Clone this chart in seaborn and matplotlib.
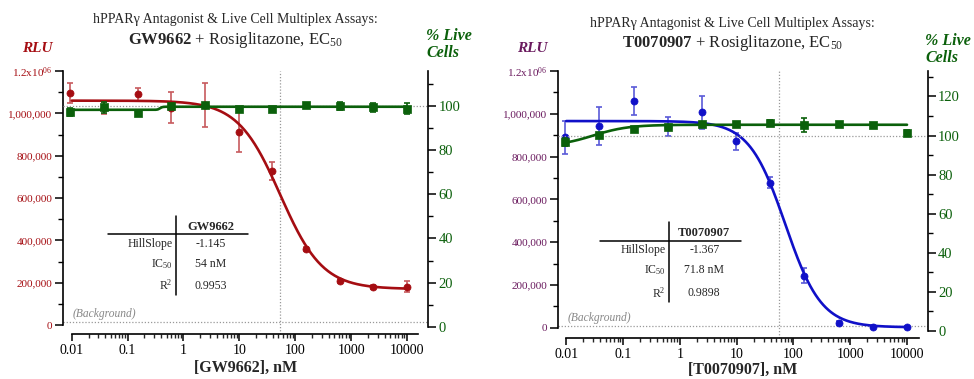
import numpy as np
import pandas as pd
import matplotlib
matplotlib.use("Agg")
import matplotlib.pyplot as plt
import seaborn as sns
from matplotlib.ticker import FixedLocator, FixedFormatter, NullFormatter
from matplotlib.lines import Line2D

sns.set_theme(style="ticks")
plt.rcParams['font.family'] = ['Liberation Serif', 'DejaVu Serif']
plt.rcParams['mathtext.fontset'] = 'custom'
plt.rcParams['mathtext.rm'] = 'Liberation Serif'
plt.rcParams['mathtext.it'] = 'Liberation Serif:italic'
plt.rcParams['mathtext.bf'] = 'Liberation Serif:bold'

# ---------------- data ----------------
conc = [0.0095, 0.038, 0.153, 0.61, 2.44, 9.77, 39.06, 156.25, 625, 2500, 10000]
x_ticks = [0.01, 0.1, 1, 10, 100, 1000, 10000]
x_tick_labels = ['0.01', '0.1', '1', '10', '100', '1000', '10000']
rlu_ticks = [0, 200000, 400000, 600000, 800000, 1000000, 1200000]
rlu_tick_labels = ['0', '200,000', '400,000', '600,000', '800,000', '1,000,000',
                   r'$\mathregular{1.2x10^{06}}$']

gw_rlu = [1.097e6, 1.025e6, 1.091e6, 1.027e6, 1.038e6, 0.913e6, 0.726e6, 0.358e6, 0.208e6, 0.181e6, 0.181e6]
gw_rlu_err = [0.048e6, 0.027e6, 0.031e6, 0.075e6, 0.103e6, 0.098e6, 0.043e6, 0.010e6, 0.010e6, 0.010e6, 0.025e6]
gw_live = [97.3, 99.4, 96.7, 100.0, 100.5, 98.5, 98.8, 100.5, 100.0, 99.4, 98.8]
gw_live_err = [2.0, 2.5, 0.8, 1.0, 1.0, 1.0, 1.0, 0.5, 1.8, 2.0, 2.4]
gw_fit = dict(top=1.06e6, bottom=0.17e6, mid=54, hill=-1.145)
gw_live_fit = dict(top=99.7, bottom=98.3, mid=0.38, hill=20)
gw_table = ['GW9662', '-1.145', '54 nM', '0.9953']

t_rlu = [0.89e6, 0.943e6, 1.061e6, 0.94e6, 1.007e6, 0.872e6, 0.678e6, 0.242e6, 0.023e6, 0.002e6, 0.002e6]
t_rlu_err = [0.076e6, 0.09e6, 0.065e6, 0.045e6, 0.078e6, 0.04e6, 0.027e6, 0.035e6, 0.01e6, 0.005e6, 0.005e6]
t_live = [96.8, 100.4, 103.3, 104.3, 105.9, 105.9, 106.2, 105.4, 105.7, 105.2, 101.4]
t_live_err = [2.0, 1.0, 0.8, 1.0, 1.0, 1.2, 1.5, 3.4, 0.8, 0.8, 1.5]
t_fit = dict(top=0.966e6, bottom=0.002e6, mid=71.8, hill=-1.367)
t_live_fit = dict(top=105.5, bottom=94.5, mid=0.03, hill=1.4)
t_table = ['T0070907', '-1.367', '71.8 nM', '0.9898']

RED = '#a50d12'
RED_ERR = '#c75a5e'
GREEN = '#0b600b'
BLUE = '#1010c8'
BLUE_ERR = '#5a5ad8'
PURPLE = '#6a1a5e'

W, H = 974, 379
fig = plt.figure(figsize=(W / 100, H / 100), dpi=100)


def fx(px):
    return px / W


def fy(py):
    return 1 - py / H


def four_pl(x, p):
    x = np.asarray(x)
    return p['bottom'] + (p['top'] - p['bottom']) / (1 + 10 ** ((np.log10(p['mid']) - np.log10(x)) * p['hill']))


def panel(box, xlim, ylim_l, ylim_r, xspine_end, rlu, rlu_err, live, live_err,
          fit, live_fit, c_main, c_err, c_left_ticks, live_major, live_minor,
          bg_level, vline_x, xlabel, xlabelpad, title_x, title_y, title2, rlu_pos,
          live_pos, table, tab):
    l, t, r, b = box
    ax = fig.add_axes([fx(l), fy(b), fx(r - l), (b - t) / H])
    ax.set_facecolor('none')
    ax.set_xscale('log')
    ax.set_xlim(*xlim)
    ax.set_ylim(*ylim_l)
    ax2 = ax.twinx()
    ax2.set_ylim(*ylim_r)

    xs = np.logspace(-2, 4, 400)
    # background / reference dotted lines
    ax.axhline(bg_level, color='#999999', lw=0.9, ls=(0, (1, 1.5)), zorder=1)
    ax2.axhline(100, color='#999999', lw=0.9, ls=(0, (1, 1.5)), zorder=1)
    ax.axvline(vline_x, ymin=-0.028, ymax=1, color='#999999', lw=0.9,
               ls=(0, (1, 1.5)), clip_on=False, zorder=1)
    ax.annotate('(Background)', xy=(0.01, bg_level), xytext=(1, 1.5),
                textcoords='offset points', fontsize=8.3, style='italic',
                color='#888888', ha='left', va='bottom')

    # RLU series
    ax.errorbar(conc, rlu, yerr=rlu_err, fmt='none', ecolor=c_err, elinewidth=1.2,
                capsize=2.5, capthick=1.2, zorder=2)
    sns.lineplot(x=xs, y=four_pl(xs, fit), ax=ax, color=c_main, lw=1.9, zorder=3)
    sns.scatterplot(x=conc, y=rlu, ax=ax, color=c_main, s=26, marker='o',
                    edgecolor=c_main, linewidth=0.5, zorder=4)

    # live cells series
    ax2.errorbar(conc, live, yerr=live_err, fmt='none', ecolor=GREEN, elinewidth=1.2,
                 capsize=2.5, capthick=1.2, zorder=2)
    sns.lineplot(x=xs, y=four_pl(xs, live_fit), ax=ax2, color=GREEN, lw=1.9, zorder=3)
    sns.scatterplot(x=conc, y=live, ax=ax2, color=GREEN, s=34, marker='s',
                    edgecolor=GREEN, linewidth=0.5, zorder=4)

    # spines
    for s in ['top', 'right']:
        ax.spines[s].set_visible(False)
    for s in ['top', 'bottom', 'left']:
        ax2.spines[s].set_visible(False)
    ax.spines['bottom'].set_position(('outward', 5.3))
    ax.spines['bottom'].set_bounds(0.01, xspine_end)
    ax.spines['left'].set_bounds(0, 1.2e6)
    ax2.spines['right'].set_bounds(0, ylim_r[1])
    for sp in [ax.spines['bottom'], ax.spines['left'], ax2.spines['right']]:
        sp.set_linewidth(1.2)
        sp.set_color('black')

    # x ticks
    ax.xaxis.set_major_locator(FixedLocator(x_ticks))
    ax.xaxis.set_major_formatter(FixedFormatter(x_tick_labels))
    minors = [m * 10.0 ** e for e in range(-2, 4) for m in range(2, 10)]
    ax.xaxis.set_minor_locator(FixedLocator(minors))
    ax.xaxis.set_minor_formatter(NullFormatter())
    ax.tick_params(axis='x', which='major', length=5, width=1.1, labelsize=10,
                   pad=2, colors='black')
    ax.tick_params(axis='x', which='minor', length=3, width=1.0)

    # left y ticks
    ax.yaxis.set_major_locator(FixedLocator(rlu_ticks))
    ax.yaxis.set_major_formatter(FixedFormatter(rlu_tick_labels))
    ax.yaxis.set_minor_locator(FixedLocator(list(range(100000, 1200000, 200000))))
    ax.tick_params(axis='y', which='major', length=6, width=1.1, labelsize=8,
                   pad=1.5, labelcolor=c_left_ticks, color='black')
    ax.tick_params(axis='y', which='minor', length=3.5, width=1.0, color='black')

    # right y ticks
    ax2.yaxis.set_major_locator(FixedLocator(live_major))
    ax2.yaxis.set_major_formatter(FixedFormatter([str(v) for v in live_major]))
    ax2.yaxis.set_minor_locator(FixedLocator(live_minor))
    ax2.tick_params(axis='y', which='major', length=6, width=1.1, labelsize=10.5,
                    pad=1.5, labelcolor=GREEN, color='black')
    ax2.tick_params(axis='y', which='minor', length=3.5, width=1.0, color='black')
    ax.grid(False)
    ax2.grid(False)

    ax.set_xlabel(xlabel, fontsize=11.5, fontweight='bold', labelpad=xlabelpad)
    ax.set_ylabel('')
    ax2.set_ylabel('')

    # titles and axis titles
    fig.text(fx(title_x), fy(title_y[0]), 'hPPARγ Antagonist & Live Cell Multiplex Assays:',
             ha='center', va='center', fontsize=10)
    fig.text(fx(title_x), fy(title_y[1]), title2, ha='center', va='center', fontsize=12)
    fig.text(fx(rlu_pos[0]), fy(rlu_pos[1]), 'RLU', ha='center', va='center', fontsize=11,
             fontweight='bold', style='italic', color=c_left_ticks)
    fig.text(fx(live_pos[0]), fy(live_pos[1]), '% Live\nCells', ha='left', va='center',
             fontsize=11.5, fontweight='bold', style='italic', color=GREEN, linespacing=1.05)

    # parameter table
    vx, vt, vb, hx0, hx1, hy, lab_x, val_x, rows_y = tab
    fig.add_artist(Line2D([fx(vx), fx(vx)], [fy(vt), fy(vb)], color='black', lw=1.1))
    fig.add_artist(Line2D([fx(hx0), fx(hx1)], [fy(hy), fy(hy)], color='black', lw=1.1))
    fig.text(fx(val_x), fy(rows_y[0]), table[0], ha='center', va='center', fontsize=9,
             fontweight='bold')
    labels = ['HillSlope', r'IC$_{50}$', r'R$^{2}$']
    for lab, val, yy in zip(labels, table[1:], rows_y[1:]):
        fig.text(fx(lab_x), fy(yy), lab, ha='right', va='center', fontsize=8.5)
        fig.text(fx(val_x), fy(yy), val, ha='center', va='center', fontsize=8.5)
    return ax, ax2


panel(box=(63, 71, 428, 326.7), xlim=(0.00699, 23760), ylim_l=(-8000, 1.2e6),
      ylim_r=(0, 115.9), xspine_end=15700, rlu=gw_rlu, rlu_err=gw_rlu_err,
      live=gw_live, live_err=gw_live_err, fit=gw_fit, live_fit=gw_live_fit,
      c_main=RED, c_err=RED_ERR, c_left_ticks=RED,
      live_major=[0, 20, 40, 60, 80, 100], live_minor=[10, 30, 50, 70, 90, 110],
      bg_level=12750, vline_x=54, xlabel='[GW9662], nM', xlabelpad=2.5,
      title_x=235, title_y=(20, 39.5),
      title2=r'$\mathbf{GW9662}$ + Rosiglitazone, EC$_{50}$',
      rlu_pos=(37.7, 48.3), live_pos=(426.5, 44.5), table=gw_table,
      tab=(175.7, 216, 295, 108.3, 247.7, 234, 173, 211, [226.7, 244, 264, 285.7]))

panel(box=(558, 71, 927.7, 331), xlim=(0.00715, 23140), ylim_l=(-15400, 1.2e6),
      ylim_r=(0, 133), xspine_end=16470, rlu=t_rlu, rlu_err=t_rlu_err,
      live=t_live, live_err=t_live_err, fit=t_fit, live_fit=t_live_fit,
      c_main=BLUE, c_err=BLUE_ERR, c_left_ticks=PURPLE,
      live_major=[0, 20, 40, 60, 80, 100, 120],
      live_minor=[10, 30, 50, 70, 90, 110, 130],
      bg_level=8000, vline_x=55, xlabel='[T0070907], nM', xlabelpad=0.5,
      title_x=732.7, title_y=(24, 42.7),
      title2=r'$\mathbf{T0070907}$ + Rosiglitazone, EC$_{50}$',
      rlu_pos=(532, 48.3), live_pos=(925, 49.5), table=t_table,
      tab=(668.7, 222.3, 302.3, 600.3, 741, 241, 666, 704.3, [232.7, 250, 270, 293.3]))

fig.savefig('out.png', dpi=100)
